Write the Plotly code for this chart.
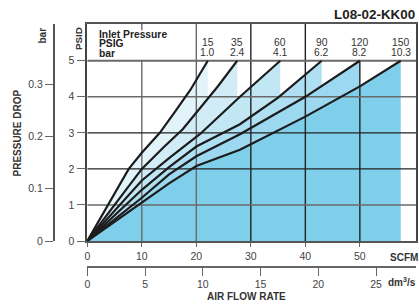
import plotly.graph_objects as go

# ---------------- data ----------------
inlet_psig = ["15", "35", "60", "90", "120", "150"]
inlet_bar = ["1.0", "2.4", "4.1", "6.2", "8.2", "10.3"]

flow_15 = [0, 7.6, 10, 13.3, 16, 18.9, 22.1]
dp_15 = [0, 2.0, 2.45, 3.0, 3.57, 4.19, 5.0]

flow_35 = [0, 10, 14, 17.5, 20.7, 24, 27.5]
dp_35 = [0, 2.0, 2.6, 3.1, 3.69, 4.3, 5.0]

flow_60 = [0, 10, 15, 20.7, 28, 35.4]
dp_60 = [0, 1.68, 2.3, 2.97, 4.0, 5.0]

flow_90 = [0, 10, 15, 20, 28, 35, 43]
dp_90 = [0, 1.42, 2.05, 2.62, 3.24, 3.98, 5.0]

flow_120 = [0, 10, 15, 20, 28, 40, 50]
dp_120 = [0, 1.2, 1.85, 2.35, 2.96, 4.0, 5.0]

flow_150 = [0, 10, 15, 20, 28, 40, 50, 57.5]
dp_150 = [0, 1.08, 1.6, 2.08, 2.53, 3.45, 4.29, 5.0]

scfm_ticks = [0, 10, 20, 30, 40, 50]
dm3s_ticks = [0, 5, 10, 15, 20, 25]
psid_ticks = [0, 1, 2, 3, 4, 5]
bar_ticks = [0, 0.1, 0.2, 0.3]
bar_tick_text = ["0", "0.1", "0.2", "0.3"]

SCFM_PER_DM3S = 2.11888
PSI_PER_BAR = 14.5038

# ---------------- geometry ----------------
W, H = 419, 307
ML, MR, MT, MB = 0, 3, 24, 10
PW, PH = W - ML - MR, H - MT - MB
X_MAX = 60.3
Y_MAX = 6.02


def px(x):
    return (x - ML) / PW


def py(y):
    return (H - MB - y) / PH


curves = [
    (flow_15, dp_15), (flow_35, dp_35), (flow_60, dp_60),
    (flow_90, dp_90), (flow_120, dp_120), (flow_150, dp_150),
]
fill_colors = ["#e3f3fa", "#d2ecf7", "#c1e6f4", "#afdff2", "#9cd8f0", "#7fcfeb"]

fig = go.Figure()

# filled regions
for (fx, fy), col in zip(curves, fill_colors):
    fig.add_trace(go.Scatter(
        x=fx + [fx[-1], 0], y=fy + [0, 0], mode="lines", fill="toself",
        fillcolor=col, line=dict(width=0), hoverinfo="skip", showlegend=False))

# grid lines (drawn above fills, below curves)
top_psid = psid_ticks[-1]
for v in scfm_ticks[1:]:
    col = "#6a6a6a" if v in (10, 20) else "#222222"
    y_top = Y_MAX if v in (20, 30, 40) else top_psid
    fig.add_trace(go.Scatter(x=[v, v], y=[0, y_top], mode="lines",
                             line=dict(color=col, width=1.4),
                             hoverinfo="skip", showlegend=False))
fig.add_trace(go.Scatter(x=[10, 10], y=[5.85, Y_MAX], mode="lines",
                         line=dict(color="#6a6a6a", width=1.4),
                         hoverinfo="skip", showlegend=False))
for v in psid_ticks[1:]:
    col = "#222222" if v in (2, 3) else "#6a6a6a"
    w = 2 if v == 5 else 1.4
    fig.add_trace(go.Scatter(x=[0, X_MAX], y=[v, v], mode="lines",
                             line=dict(color=col, width=w),
                             hoverinfo="skip", showlegend=False))

# curves
for fx, fy in curves:
    fig.add_trace(go.Scatter(x=fx, y=fy, mode="lines",
                             line=dict(color="#1c1c1c", width=2.2),
                             hoverinfo="skip", showlegend=False))

# secondary axes carrier
fig.add_trace(go.Scatter(x=[0], y=[0], xaxis="x2", yaxis="y2",
                         mode="markers", marker=dict(opacity=0),
                         showlegend=False, hoverinfo="skip"))

FONT = "Liberation Sans, Arial, sans-serif"
TXT = "#333333"
x_dom = [px(87.3), 1]
y_dom = [py(241), 1]

fig.update_layout(
    width=W, height=H,
    margin=dict(l=ML, r=MR, t=MT, b=MB, autoexpand=False),
    paper_bgcolor="white", plot_bgcolor="white",
    font=dict(family=FONT, size=10.5, color=TXT),
    xaxis=dict(domain=x_dom, range=[0, X_MAX], tickvals=scfm_ticks,
               ticks="outside", ticklen=4, tickcolor="#666", tickwidth=1.4,
               showline=True, linecolor="#555", linewidth=2, mirror=True,
               showgrid=False, zeroline=False, anchor="y", automargin=False,
               tickfont=dict(size=10.5, color="#444")),
    yaxis=dict(domain=y_dom, range=[0, Y_MAX], tickvals=psid_ticks,
               ticks="outside", ticklen=9, tickcolor="#666", tickwidth=1.4,
               showline=True, linecolor="#444", linewidth=1.6, mirror=True,
               showgrid=False, zeroline=False, anchor="x", automargin=False,
               tickfont=dict(size=10.5, color="#444")),
    xaxis2=dict(overlaying="x", anchor="free", position=py(266.7), side="bottom",
                range=[0, X_MAX / SCFM_PER_DM3S], tickvals=dm3s_ticks,
                ticks="outside", ticklen=8, tickcolor="#666", tickwidth=1.4,
                showline=True, linecolor="#666", linewidth=2,
                showgrid=False, zeroline=False, automargin=False,
                tickfont=dict(size=10.5, color="#444")),
    yaxis2=dict(overlaying="y", anchor="free", position=px(54), side="left",
                range=[0, Y_MAX / PSI_PER_BAR], tickvals=bar_ticks,
                ticktext=bar_tick_text,
                ticks="outside", ticklen=8, tickcolor="#666", tickwidth=1.4,
                showline=True, linecolor="#555", linewidth=2,
                showgrid=False, zeroline=False, automargin=False,
                tickfont=dict(size=10.5, color="#444")),
)

ann = []
ann.append(dict(text="<b>L08-02-KK00</b>", xref="paper", yref="paper",
                x=px(416.5), y=py(15), xanchor="right", yanchor="middle",
                showarrow=False, font=dict(size=13.4, color="#222")))
for i, t in enumerate(["Inlet Pressure", "PSIG", "bar"]):
    ann.append(dict(text="<b>%s</b>" % t, xref="paper", yref="paper",
                    x=px(97.5), y=py([34.5, 44, 53.5][i]), xanchor="left",
                    yanchor="middle", showarrow=False, borderpad=0,
                    font=dict(size=10.3, color="#222")))
for (fx, fy), p, b in zip(curves, inlet_psig, inlet_bar):
    ann.append(dict(text=p, xref="x", yref="y", x=fx[-1], y=5.5,
                    xanchor="center", yanchor="middle", showarrow=False,
                    borderpad=0, font=dict(size=10.3, color="#333")))
    ann.append(dict(text=b, xref="x", yref="y", x=fx[-1], y=5.22,
                    xanchor="center", yanchor="middle", showarrow=False,
                    borderpad=0, font=dict(size=10.3, color="#333")))
ann.append(dict(text="<b>SCFM</b>", xref="paper", yref="paper",
                x=px(403.5), y=py(257), xanchor="center", yanchor="middle",
                showarrow=False, font=dict(size=10, color="#333")))
ann.append(dict(text="<b>dm<sup>3</sup>/s</b>", xref="paper", yref="paper",
                x=px(402), y=py(282), xanchor="center", yanchor="middle",
                showarrow=False, font=dict(size=10, color="#333")))
ann.append(dict(text="<b>AIR FLOW RATE</b>", xref="paper", yref="paper",
                x=px(246), y=py(296.5), xanchor="center", yanchor="middle",
                showarrow=False, font=dict(size=10, color="#333")))
ann.append(dict(text="<b>PRESSURE DROP</b>", xref="paper", yref="paper",
                x=px(16.5), y=py(133), xanchor="center", yanchor="middle",
                textangle=-90, showarrow=False, font=dict(size=10, color="#333")))
ann.append(dict(text="<b>PSID</b>", xref="paper", yref="paper",
                x=px(78), y=py(39), xanchor="center", yanchor="middle",
                textangle=-90, showarrow=False, font=dict(size=9.8, color="#333")))
ann.append(dict(text="<b>bar</b>", xref="paper", yref="paper",
                x=px(42.5), y=py(36), xanchor="center", yanchor="middle",
                textangle=-90, showarrow=False, font=dict(size=10, color="#333")))
fig.update_layout(annotations=ann)

fig.write_html("out.html",
               config={"displayModeBar": False},
               post_script="document.body.style.margin='0';"
                           "document.body.style.overflow='hidden';")
